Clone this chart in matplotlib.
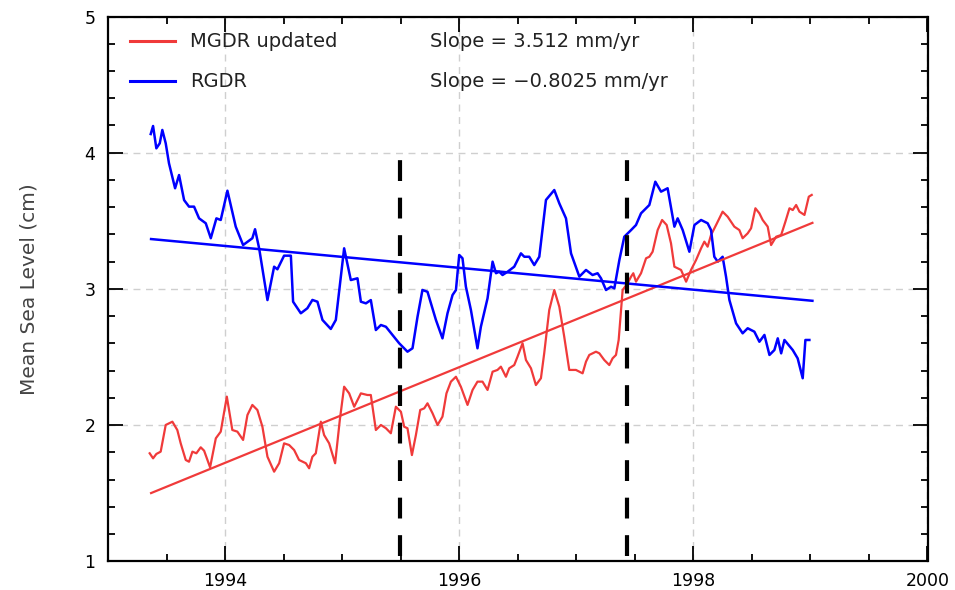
import numpy as np
import matplotlib
matplotlib.use("Agg")
import matplotlib.pyplot as plt
from matplotlib.ticker import MultipleLocator

# ---------------- data ----------------
rgdr_t = [1993.365, 1993.385, 1993.413, 1993.442, 1993.464, 1993.493, 1993.521, 1993.573, 1993.607, 1993.650,
          1993.692, 1993.735, 1993.778, 1993.835, 1993.878, 1993.926, 1993.963, 1994.020, 1994.091, 1994.154,
          1994.233, 1994.256, 1994.291, 1994.362, 1994.419, 1994.447, 1994.504, 1994.562, 1994.581, 1994.647,
          1994.703, 1994.746, 1994.789, 1994.832, 1994.903, 1994.946, 1995.017, 1995.074, 1995.131, 1995.160,
          1995.203, 1995.245, 1995.288, 1995.331, 1995.374, 1995.430, 1995.487, 1995.558, 1995.601, 1995.644,
          1995.686, 1995.729, 1995.801, 1995.857, 1995.900, 1995.943, 1995.972, 1996.000, 1996.028, 1996.057,
          1996.100, 1996.156, 1996.185, 1996.242, 1996.285, 1996.314, 1996.342, 1996.370, 1996.413, 1996.470,
          1996.527, 1996.556, 1996.598, 1996.641, 1996.684, 1996.741, 1996.812, 1996.855, 1996.912, 1996.955,
          1997.026, 1997.083, 1997.139, 1997.182, 1997.211, 1997.254, 1997.297, 1997.325, 1997.368, 1997.410,
          1997.468, 1997.510, 1997.553, 1997.624, 1997.675, 1997.724, 1997.780, 1997.838, 1997.866, 1997.909,
          1997.966, 1998.009, 1998.066, 1998.122, 1998.151, 1998.179, 1998.208, 1998.250, 1998.279, 1998.308,
          1998.365, 1998.421, 1998.464, 1998.521, 1998.564, 1998.607, 1998.650, 1998.692, 1998.721, 1998.750,
          1998.778, 1998.849, 1998.891, 1998.934, 1998.957, 1998.991]
rgdr_msl = [4.137, 4.196, 4.032, 4.069, 4.167, 4.069, 3.922, 3.739, 3.836, 3.652,
            3.604, 3.604, 3.518, 3.482, 3.372, 3.518, 3.506, 3.721, 3.457, 3.322,
            3.372, 3.438, 3.298, 2.918, 3.163, 3.144, 3.244, 3.244, 2.906, 2.821,
            2.858, 2.919, 2.906, 2.772, 2.706, 2.772, 3.298, 3.065, 3.078, 2.906,
            2.894, 2.918, 2.698, 2.735, 2.722, 2.662, 2.601, 2.539, 2.564, 2.796,
            2.992, 2.979, 2.772, 2.637, 2.821, 2.955, 2.992, 3.249, 3.225, 3.016,
            2.845, 2.564, 2.722, 2.931, 3.200, 3.115, 3.126, 3.102, 3.126, 3.163,
            3.261, 3.236, 3.236, 3.175, 3.236, 3.653, 3.726, 3.628, 3.518, 3.261,
            3.090, 3.139, 3.102, 3.115, 3.078, 2.992, 3.016, 3.004, 3.212, 3.383,
            3.432, 3.469, 3.555, 3.616, 3.787, 3.714, 3.739, 3.457, 3.518, 3.432,
            3.273, 3.469, 3.506, 3.482, 3.432, 3.236, 3.200, 3.236, 3.090, 2.918,
            2.747, 2.674, 2.711, 2.686, 2.612, 2.662, 2.515, 2.551, 2.637, 2.527,
            2.625, 2.551, 2.490, 2.344, 2.625, 2.625]

mgdr_t = [1993.356, 1993.385, 1993.413, 1993.450, 1993.493, 1993.521, 1993.550, 1993.592, 1993.621, 1993.664,
          1993.692, 1993.721, 1993.755, 1993.792, 1993.821, 1993.872, 1993.921, 1993.963, 1994.015, 1994.062,
          1994.105, 1994.154, 1994.191, 1994.233, 1994.276, 1994.319, 1994.362, 1994.419, 1994.462, 1994.504,
          1994.547, 1994.590, 1994.632, 1994.690, 1994.718, 1994.746, 1994.775, 1994.818, 1994.846, 1994.889,
          1994.940, 1994.980, 1995.017, 1995.060, 1995.103, 1995.160, 1995.216, 1995.245, 1995.288, 1995.331,
          1995.374, 1995.416, 1995.459, 1995.502, 1995.530, 1995.558, 1995.596, 1995.630, 1995.667, 1995.701,
          1995.729, 1995.772, 1995.815, 1995.857, 1995.891, 1995.929, 1995.972, 1996.014, 1996.071, 1996.114,
          1996.156, 1996.199, 1996.242, 1996.285, 1996.327, 1996.356, 1996.399, 1996.427, 1996.470, 1996.498,
          1996.541, 1996.570, 1996.613, 1996.655, 1996.698, 1996.726, 1996.769, 1996.812, 1996.855, 1996.897,
          1996.940, 1996.997, 1997.054, 1997.083, 1997.111, 1997.168, 1997.197, 1997.239, 1997.282, 1997.310,
          1997.339, 1997.362, 1997.382, 1997.396, 1997.438, 1997.468, 1997.487, 1997.510, 1997.553, 1997.596,
          1997.624, 1997.652, 1997.695, 1997.733, 1997.772, 1997.809, 1997.838, 1997.895, 1997.938, 1997.980,
          1998.023, 1998.066, 1998.094, 1998.122, 1998.151, 1998.194, 1998.250, 1998.293, 1998.350, 1998.393,
          1998.421, 1998.464, 1998.493, 1998.530, 1998.564, 1998.592, 1998.635, 1998.664, 1998.707, 1998.750,
          1998.786, 1998.821, 1998.849, 1998.878, 1998.906, 1998.949, 1998.986, 1999.011]
mgdr_msl = [1.793, 1.756, 1.788, 1.805, 2.001, 2.013, 2.025, 1.964, 1.866, 1.744,
            1.731, 1.805, 1.793, 1.837, 1.812, 1.690, 1.903, 1.952, 2.209, 1.964,
            1.952, 1.891, 2.074, 2.148, 2.111, 1.988, 1.768, 1.658, 1.720, 1.866,
            1.854, 1.817, 1.744, 1.720, 1.683, 1.768, 1.793, 2.025, 1.927, 1.866,
            1.720, 2.037, 2.282, 2.233, 2.135, 2.233, 2.221, 2.221, 1.964, 2.001,
            1.977, 1.940, 2.135, 2.098, 1.988, 1.977, 1.780, 1.927, 2.111, 2.123,
            2.160, 2.087, 2.001, 2.062, 2.233, 2.319, 2.355, 2.282, 2.148, 2.258,
            2.319, 2.319, 2.258, 2.392, 2.405, 2.429, 2.355, 2.417, 2.441, 2.502,
            2.601, 2.478, 2.417, 2.294, 2.344, 2.527, 2.845, 2.992, 2.869, 2.649,
            2.405, 2.405, 2.380, 2.466, 2.515, 2.539, 2.527, 2.478, 2.441, 2.490,
            2.515, 2.625, 2.845, 2.992, 3.041, 3.090, 3.115, 3.053, 3.115, 3.225,
            3.236, 3.273, 3.432, 3.506, 3.469, 3.335, 3.163, 3.139, 3.053, 3.139,
            3.212, 3.298, 3.347, 3.310, 3.396, 3.469, 3.567, 3.530, 3.457, 3.432,
            3.372, 3.408, 3.445, 3.592, 3.555, 3.506, 3.457, 3.322, 3.383, 3.396,
            3.493, 3.592, 3.579, 3.616, 3.567, 3.543, 3.677, 3.690]

# linear trends (cm/yr), fitted start/end
trend_t = [1993.368, 1999.017]
mgdr_slope, mgdr_start = 0.3512, 1.501
rgdr_slope, rgdr_start = -0.08025, 3.366

event_years = [1995.49, 1997.43]
event_ymin, event_ymax = 1.04, 3.96

series_labels = ["MGDR updated", "RGDR"]
slope_labels = ["Slope = 3.512 mm/yr", "Slope = \u22120.8025 mm/yr"]
x_ticks = [1994, 1996, 1998, 2000]
y_ticks = [1, 2, 3, 4, 5]

RED = "#f03a3a"
BLUE = "#0000ff"

# ---------------- figure ----------------
fig = plt.figure(figsize=(9.55, 5.9), dpi=100)
ax = fig.add_axes([108 / 955, 1 - 561.3 / 590, (927.5 - 108) / 955, (561.3 - 16.5) / 590])

ax.set_xlim(1993, 2000)
ax.set_ylim(1, 5)

ax.grid(True, which="major", color="#cfcfcf", linestyle=(0, (5, 4)), linewidth=1.0)
ax.set_axisbelow(True)

ax.plot(mgdr_t, mgdr_msl, color=RED, lw=1.6, zorder=3)
ax.plot(rgdr_t, rgdr_msl, color=BLUE, lw=1.8, zorder=3)

tt = np.array(trend_t)
ax.plot(tt, mgdr_start + mgdr_slope * (tt - tt[0]), color=RED, lw=1.6, zorder=3)
ax.plot(tt, rgdr_start + rgdr_slope * (tt - tt[0]), color=BLUE, lw=1.8, zorder=3)

for ex in event_years:
    ax.plot([ex, ex], [event_ymin, event_ymax], color="black", lw=3.0,
            dashes=(5.0, 4.0), zorder=4, solid_capstyle="butt", dash_capstyle="butt")

# legend-like annotation
leg_y = [0.955, 0.8816]
for col, lab, slab, yy in zip([RED, BLUE], series_labels, slope_labels, leg_y):
    ax.plot([0.027, 0.082], [yy, yy], transform=ax.transAxes, color=col, lw=2.2, clip_on=False)
    ax.text(0.1, yy, lab, transform=ax.transAxes, va="center", ha="left",
            fontsize=14, color="#222222")
    ax.text(0.393, yy, slab, transform=ax.transAxes, va="center", ha="left",
            fontsize=14, color="#222222")

ax.set_xticks(x_ticks)
ax.set_xticklabels([str(v) for v in x_ticks])
ax.set_yticks(y_ticks)
ax.set_yticklabels([str(v) for v in y_ticks])
ax.xaxis.set_minor_locator(MultipleLocator(0.5))
ax.yaxis.set_minor_locator(MultipleLocator(0.2))

ax.tick_params(which="both", direction="in", top=True, right=True, width=1.3, colors="black")
ax.tick_params(which="major", length=11, labelsize=12.5, pad=8)
ax.tick_params(which="minor", length=5)
ax.tick_params(axis="y", which="major", pad=9)

for sp in ax.spines.values():
    sp.set_linewidth(1.6)

ax.set_ylabel("Mean Sea Level (cm)", fontsize=14.5, color="#444444", labelpad=33)

fig.savefig("out.png", dpi=100)
